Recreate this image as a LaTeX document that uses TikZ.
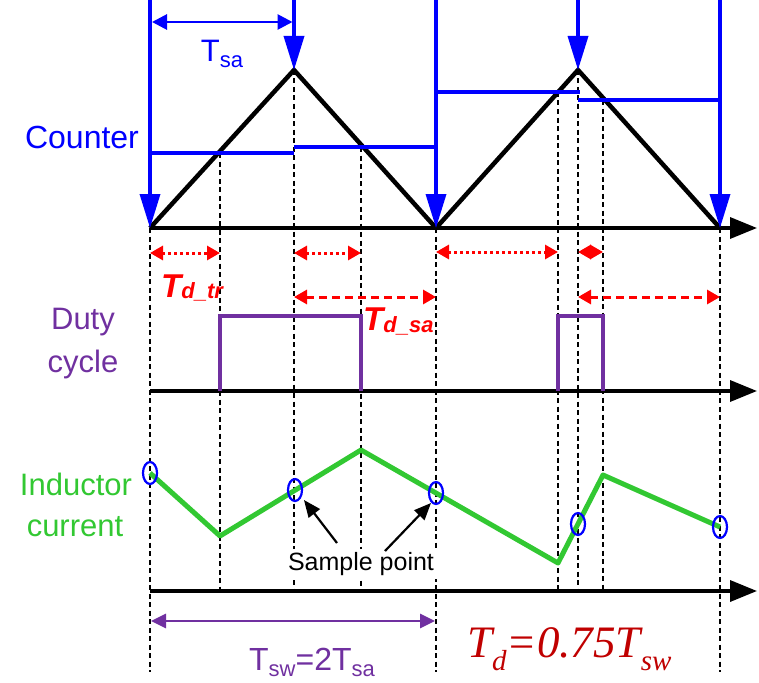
\documentclass[tikz,border=0pt]{standalone}
\usepackage{fontspec}
\setmainfont{Liberation Sans}
\newfontfamily\tnr{Liberation Serif}
\usetikzlibrary{arrows.meta}
\definecolor{cblue}{RGB}{0,0,255}
\definecolor{cpurple}{RGB}{112,48,160}
\definecolor{cgreen}{RGB}{50,200,50}
\definecolor{cred}{RGB}{255,0,0}
\definecolor{tdred}{RGB}{192,0,0}
\tikzset{
  fs/.style={font=\fontsize{#1}{#1}\selectfont},
  bluearr/.style={draw=cblue, line width=3.5pt, -{Triangle[length=34pt,width=20pt]}},
  axisarr/.style={draw=black, line width=3.5pt, -{Triangle[length=27pt,width=21pt]}},
  level/.style={draw=cblue, line width=4.5pt},
  tri/.style={draw=black, line width=4.5pt, line join=miter},
  guide/.style={draw=black, line width=2.2pt, dash pattern=on 5pt off 3.5pt},
  reddot/.style={draw=cred, line width=3pt, dash pattern=on 3pt off 3pt, {Triangle[length=13pt,width=14pt]}-{Triangle[length=13pt,width=14pt]}},
  reddash/.style={draw=cred, line width=3pt, dash pattern=on 8pt off 5pt, {Triangle[length=13pt,width=14pt]}-{Triangle[length=13pt,width=14pt]}},
  duty/.style={draw=cpurple, line width=3.6pt},
  cur/.style={draw=cgreen, line width=5pt, line join=round},
  samp/.style={draw=cblue, line width=2.2pt},
  lbl/.style={anchor=base, inner sep=0pt},
}
\begin{document}
\begin{tikzpicture}[x=1pt,y=-1pt]
\useasboundingbox (0,0) rectangle (759,682);

% key coordinates
\coordinate (o1) at (150,228);
\coordinate (p1) at (294,70);
\coordinate (v1) at (436,228);
\coordinate (p2) at (578,70);
\coordinate (e1) at (720,228);

% dashed guide lines
\coordinate (g1t) at (150,228); \coordinate (g1b) at (150,672);
\coordinate (g2t) at (220,153); \coordinate (g2b) at (220,591);
\coordinate (g3t) at (294,70);  \coordinate (g3b) at (294,591);
\coordinate (g4t) at (361,147); \coordinate (g4b) at (361,591);
\coordinate (g5t) at (436,228); \coordinate (g5b) at (436,672);
\coordinate (g6t) at (558,92);  \coordinate (g6b) at (558,591);
\coordinate (g7t) at (578,70);  \coordinate (g7b) at (578,591);
\coordinate (g8t) at (603,100); \coordinate (g8b) at (603,591);
\coordinate (g9t) at (720,228); \coordinate (g9b) at (720,672);
\foreach \i in {1,...,9} { \draw[guide] (g\i t) -- (g\i b); }

% axes
\coordinate (ax1s) at (150,228); \coordinate (ax1e) at (757,228);
\coordinate (ax2s) at (150,391); \coordinate (ax2e) at (757,391);
\coordinate (ax3s) at (150,591); \coordinate (ax3e) at (757,591);
\draw[axisarr] (ax1s) -- (ax1e);
\draw[axisarr] (ax2s) -- (ax2e);
\draw[axisarr] (ax3s) -- (ax3e);

% triangle counter
\draw[tri] (o1) -- (p1) -- (v1) -- (p2) -- (e1);

% blue levels
\coordinate (l1a) at (150,153); \coordinate (l1b) at (294,153);
\coordinate (l2a) at (294,147); \coordinate (l2b) at (436,147);
\coordinate (l3a) at (436,92);  \coordinate (l3b) at (580,92);
\coordinate (l4a) at (578,100); \coordinate (l4b) at (720,100);
\draw[level] (l1a) -- (l1b);
\draw[level] (l2a) -- (l2b);
\draw[level] (l3a) -- (l3b);
\draw[level] (l4a) -- (l4b);

% blue vertical arrows
\coordinate (b1) at (150,0); \coordinate (b2) at (294,0); \coordinate (b3) at (436,0);
\coordinate (b4) at (578,0); \coordinate (b5) at (720,0);
\draw[bluearr] (b1) -- (o1);
\draw[bluearr] (b2) -- (p1);
\draw[bluearr] (b3) -- (v1);
\draw[bluearr] (b4) -- (p2);
\draw[bluearr] (b5) -- (e1);

% Tsa arrow
\coordinate (ts1) at (152,22); \coordinate (ts2) at (292.5,22);
\draw[draw=cblue, line width=2.8pt, {Triangle[length=15pt,width=15pt]}-{Triangle[length=15pt,width=15pt]}] (ts1) -- (ts2);
\node[lbl, text=cblue, fs=31] (tsa) at (222,62) {T\raisebox{-6pt}{\fontsize{22}{22}\selectfont sa}};

% labels
\node[lbl, text=cblue, fs=32] (counter) at (82,148) {Counter};
\node[lbl, text=cpurple, fs=31] (duty1) at (83,329) {Duty};
\node[lbl, text=cpurple, fs=31] (duty2) at (83,372) {cycle};
\node[lbl, text=cgreen, fs=31] (ind1) at (76,495) {Inductor};
\node[lbl, text=cgreen, fs=31] (ind2) at (75,536) {current};

% red delay arrows
\coordinate (r1a) at (150,253); \coordinate (r1b) at (220,253);
\coordinate (r2a) at (294,253); \coordinate (r2b) at (361,253);
\coordinate (r3a) at (436,252); \coordinate (r3b) at (558,252);
\coordinate (r4a) at (578,252); \coordinate (r4b) at (603,252);
\coordinate (r5a) at (294,297); \coordinate (r5b) at (436,297);
\coordinate (r6a) at (578,297); \coordinate (r6b) at (720,297);
\draw[reddot] (r1a) -- (r1b);
\draw[reddot] (r2a) -- (r2b);
\draw[reddot] (r3a) -- (r3b);
\draw[reddot] (r4a) -- (r4b);
\draw[reddash] (r5a) -- (r5b);
\draw[reddash] (r6a) -- (r6b);
\node[anchor=base west, inner sep=0pt, text=cred, font=\fontsize{33}{33}\selectfont\bfseries\itshape] (tdtr) at (161,297) {T\raisebox{-1pt}{\fontsize{22}{22}\selectfont d\_tr}};
\node[anchor=base west, inner sep=0pt, text=cred, font=\fontsize{33}{33}\selectfont\bfseries\itshape] (tdsa) at (363,330) {T\raisebox{-2pt}{\fontsize{22}{22}\selectfont d\_sa}};

% duty cycle pulses
\coordinate (d1a) at (220,391); \coordinate (d1b) at (220,316); \coordinate (d1c) at (361,316); \coordinate (d1d) at (361,391);
\coordinate (d2a) at (558,391); \coordinate (d2b) at (558,316); \coordinate (d2c) at (603,316); \coordinate (d2d) at (603,391);
\draw[duty] (d1a) -- (d1b) -- (d1c) -- (d1d);
\draw[duty] (d2a) -- (d2b) -- (d2c) -- (d2d);

% inductor current
\coordinate (c1) at (150,473);
\coordinate (c2) at (220,536);
\coordinate (c3) at (361,450);
\coordinate (c4) at (558,563);
\coordinate (c5) at (603,475);
\coordinate (c6) at (720,527);
\draw[cur] (c1) -- (c2) -- (c3) -- (c4) -- (c5) -- (c6);

% sample circles
\draw[samp] (150,473) ellipse (7pt and 11pt);
\draw[samp] (295,490) ellipse (7pt and 11pt);
\draw[samp] (436,493) ellipse (7pt and 11pt);
\draw[samp] (578,524) ellipse (7pt and 11pt);
\draw[samp] (720,527) ellipse (7pt and 11pt);

% sample point label
\node[fill=white, inner sep=3pt, fs=25] (sp) at (361,564) {Sample point};
\coordinate (sa1s) at (337,543); \coordinate (sa1e) at (304,500);
\coordinate (sa2s) at (385,551); \coordinate (sa2e) at (431,503);
\draw[line width=2.2pt, -{Triangle[length=17pt,width=14pt]}] (sa1s) -- (sa1e);
\draw[line width=2.2pt, -{Triangle[length=17pt,width=14pt]}] (sa2s) -- (sa2e);

% Tsw arrow
\coordinate (tw1) at (151,621); \coordinate (tw2) at (435,621);
\draw[draw=cpurple, line width=2.8pt, {Triangle[length=15pt,width=14pt]}-{Triangle[length=15pt,width=14pt]}] (tw1) -- (tw2);
\node[lbl, text=cpurple, fs=32] (tsw) at (312,670) {T\raisebox{-6pt}{\fontsize{22}{22}\selectfont sw}=2T\raisebox{-6pt}{\fontsize{22}{22}\selectfont sa}};

% Td = 0.75 Tsw
\node[anchor=base west, inner sep=0pt, text=tdred, font=\tnr\itshape\fontsize{45}{45}\selectfont] (td) at (467,657) {T\raisebox{-13pt}{\fontsize{29}{29}\selectfont d}=0.75T\raisebox{-13pt}{\fontsize{29}{29}\selectfont sw}};
\end{tikzpicture}
\end{document}
